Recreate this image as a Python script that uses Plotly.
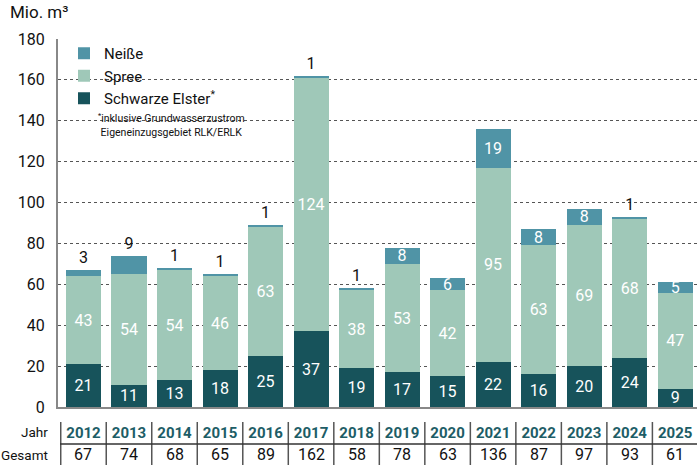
import plotly.graph_objects as go

years = ["2012", "2013", "2014", "2015", "2016", "2017", "2018", "2019",
         "2020", "2021", "2022", "2023", "2024", "2025"]
schwarze_elster = [21, 11, 13, 18, 25, 37, 19, 17, 15, 22, 16, 20, 24, 9]
spree = [43, 54, 54, 46, 63, 124, 38, 53, 42, 95, 63, 69, 68, 47]
neisse = [3, 9, 1, 1, 1, 1, 1, 8, 6, 19, 8, 8, 1, 5]
gesamt = [67, 74, 68, 65, 89, 162, 58, 78, 63, 136, 87, 97, 93, 61]
y_ticks = [0, 20, 40, 60, 80, 100, 120, 140, 160, 180]

C_ELSTER = "#17535b"
C_SPREE = "#9fc8b8"
C_NEISSE = "#5094a6"
C_YEAR = "#1d5d66"
FONT = "Roboto"

W, H = 697, 465
ML, MR, MT, MB = 58, 0, 39, 58
PH = H - MT - MB
PW = W - ML - MR

def py(pix):
    return (H - MB - pix) / PH

def px(pix):
    return (pix - ML) / PW

fig = go.Figure()
fig.add_trace(go.Bar(
    x=years, y=schwarze_elster, name="Schwarze Elster<sup>*</sup>",
    marker=dict(color=C_ELSTER, line=dict(width=0)),
    text=schwarze_elster, textposition="inside", insidetextanchor="middle",
    textangle=0, constraintext="none",
    insidetextfont=dict(color="white", size=16, family=FONT),
))
fig.add_trace(go.Bar(
    x=years, y=spree, name="Spree",
    marker=dict(color=C_SPREE, line=dict(width=0)),
    text=spree, textposition="inside", insidetextanchor="middle",
    textangle=0, constraintext="none",
    insidetextfont=dict(color="white", size=16, family=FONT),
))
neisse_pos = ["inside" if v >= 5 and i != 1 else "outside" for i, v in enumerate(neisse)]
fig.add_trace(go.Bar(
    x=years, y=neisse, name="Neiße",
    marker=dict(color=C_NEISSE, line=dict(width=0)),
    text=neisse, textposition=neisse_pos, insidetextanchor="middle",
    textangle=0, constraintext="none", cliponaxis=False,
    insidetextfont=dict(color="white", size=16, family=FONT),
    outsidetextfont=dict(color="#111111", size=16, family=FONT),
))

shapes = []
for i in range(len(years)):
    shapes.append(dict(type="line", xref="x", yref="paper",
                       x0=i - 0.5, x1=i - 0.5, y0=py(422), y1=py(465),
                       line=dict(color="#555555", width=1.5)))
shapes.append(dict(type="line", xref="paper", yref="paper",
                   x0=px(60), x1=1, y0=py(444), y1=py(444),
                   line=dict(color="#333333", width=1.5)))

annotations = []
for i, t in enumerate(gesamt):
    annotations.append(dict(x=i, y=py(455), xref="x", yref="paper",
                            text=str(t), showarrow=False,
                            font=dict(size=16, color="#111111", family=FONT),
                            xanchor="center", yanchor="middle"))
annotations.append(dict(x=px(50), y=py(432), xref="paper", yref="paper",
                        text="Jahr", showarrow=False, xanchor="right", yanchor="middle",
                        font=dict(size=13.5, color="#111111", family=FONT)))
annotations.append(dict(x=px(50), y=py(455), xref="paper", yref="paper",
                        text="Gesamt", showarrow=False, xanchor="right", yanchor="middle",
                        font=dict(size=13.5, color="#111111", family=FONT)))
annotations.append(dict(x=px(8), y=py(12), xref="paper", yref="paper",
                        text="Mio. m³", showarrow=False, xanchor="left", yanchor="middle",
                        font=dict(size=17, color="#111111", family=FONT)))
annotations.append(dict(x=px(96), y=py(125), xref="paper", yref="paper",
                        text="<sup>*</sup>inklusive Grundwasserzustrom<br> Eigeneinzugsgebiet RLK/ERLK",
                        showarrow=False, xanchor="left", yanchor="middle", align="left",
                        font=dict(size=10.5, color="#111111", family=FONT)))

fig.update_layout(
    width=W, height=H,
    margin=dict(l=ML, r=MR, t=MT, b=MB, pad=0, autoexpand=False),
    paper_bgcolor="white", plot_bgcolor="white",
    barmode="stack", bargap=0.23,
    font=dict(family=FONT, color="#111111"),
    showlegend=True,
    legend=dict(x=px(64), y=py(37), xanchor="left", yanchor="top",
                traceorder="reversed", bgcolor="rgba(0,0,0,0)",
                font=dict(size=15, color="#111111", family=FONT),
                itemwidth=30, tracegroupgap=0),
    xaxis=dict(type="category", range=[-0.56, 13.48], showgrid=False,
               showline=True, linecolor="#888888", linewidth=2,
               ticks="", ticklabelstandoff=11,
               tickfont=dict(size=15, color=C_YEAR, family=FONT),
               tickvals=years, ticktext=[f"<b>{y}</b>" for y in years],
               zeroline=False, fixedrange=True),
    yaxis=dict(range=[0, 180], tickvals=y_ticks, showgrid=True,
               gridcolor="#555555", griddash="dot", gridwidth=1,
               showline=True, linecolor="#888888", linewidth=2,
               ticks="", ticklabelstandoff=8,
               tickfont=dict(size=16, color="#111111", family=FONT),
               zeroline=False, fixedrange=True),
    shapes=shapes, annotations=annotations,
)

fig.write_html("out.html", config={"displayModeBar": False},
               post_script="document.body.style.margin='0';document.body.style.padding='0';")
